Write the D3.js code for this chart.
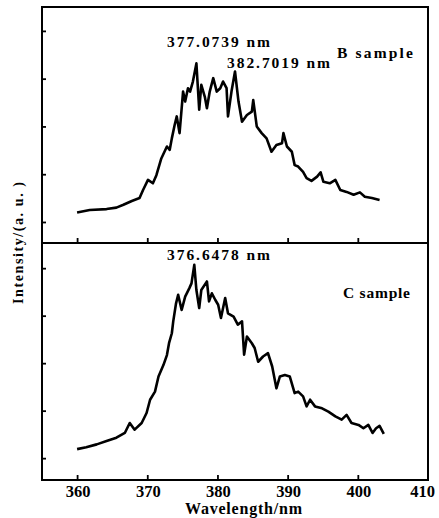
<!DOCTYPE html>
<html><head><meta charset="utf-8">
<script src="https://cdn.jsdelivr.net/npm/d3@7"></script>
<style>body{margin:0;background:#fff}svg{display:block}</style>
</head><body>
<script>
// ---- data ----
const xTicks = [360, 370, 380, 390, 400, 410];
const yTicks = [1, 2, 3, 4, 5];
const bWave = [360.0,361.8,364.2,365.6,366.6,367.8,368.9,369.4,370.1,370.8,371.3,372.0,372.8,373.2,373.5,373.9,374.2,374.6,374.9,375.1,375.4,375.8,376.1,376.5,377.0,377.4,377.7,378.2,378.5,378.9,379.4,379.9,380.4,380.8,381.3,381.5,382.0,382.5,383.0,383.5,384.2,384.9,385.1,385.6,386.3,387.0,387.7,388.4,389.2,389.4,389.9,390.6,391.0,391.5,392.2,392.7,393.4,394.2,394.7,395.1,396.0,396.8,397.5,398.4,399.4,400.3,401.0,402.0,403.1];
const bInt = [1.20,1.25,1.27,1.30,1.36,1.44,1.50,1.67,1.88,1.81,1.98,2.33,2.58,2.51,2.75,3.03,3.21,2.86,3.38,3.73,3.52,3.80,3.73,3.94,4.32,3.35,3.87,3.62,3.38,3.73,4.01,3.73,3.80,3.94,3.80,3.21,3.73,4.15,3.52,3.10,3.24,3.31,3.55,3.00,2.86,2.75,2.47,2.61,2.65,2.86,2.58,2.47,2.19,2.16,2.05,1.92,1.86,1.95,2.04,1.84,1.81,1.88,1.67,1.63,1.57,1.62,1.53,1.50,1.46];
const cWave = [360.0,361.3,362.8,364.2,365.6,366.8,367.5,368.2,369.2,369.9,370.4,371.1,371.6,372.3,372.8,373.1,373.5,373.7,374.1,374.4,374.9,375.4,376.0,376.3,376.7,377.0,377.4,377.7,378.5,378.8,379.2,379.7,380.1,380.5,381.1,381.5,382.3,382.9,383.5,383.8,384.2,384.9,385.3,385.8,386.5,387.2,387.8,388.4,388.9,389.6,390.3,391.0,391.5,392.2,392.7,393.2,393.9,394.9,395.8,396.8,397.7,398.4,399.1,400.1,400.8,401.5,402.1,402.6,403.1,403.7];
const cInt = [1.19,1.23,1.29,1.36,1.43,1.53,1.74,1.60,1.74,1.95,2.23,2.40,2.72,2.96,3.17,3.42,3.63,3.88,4.26,4.44,4.12,4.40,4.58,4.68,5.07,4.54,4.16,4.54,4.72,4.30,4.47,4.33,4.23,3.95,4.37,4.05,3.98,3.81,3.88,3.18,3.56,3.42,3.32,3.03,3.14,3.21,2.93,2.47,2.72,2.75,2.72,2.37,2.40,2.30,2.09,2.23,2.09,2.05,1.98,1.88,1.81,1.91,1.74,1.70,1.63,1.70,1.53,1.63,1.68,1.51];
const peakLabels = ["377.0739 nm", "382.7019 nm", "376.6478 nm"];
const sampleLabels = ["B sample", "C sample"];

// ---- layout ----
const W = 439, H = 518;
const L = 42, R = 428, T = 7, M = 243, B = 480;
const svg = d3.select("body").append("svg").attr("width", W).attr("height", H);
const serif = "'Liberation Serif','Times New Roman',serif";

const x = d3.scaleLinear().domain([355, 410]).range([L, R]);
const yTop = d3.scaleLinear().domain([0.56, 5.5]).range([M, T]);
const yBot = d3.scaleLinear().domain([0.54, 5.53]).range([B, M]);

// curves
const line = (ys) => d3.line().x(d => x(d[0])).y(d => ys(d[1]));
[[bWave, bInt, yTop], [cWave, cInt, yBot]].forEach(([w, v, ys]) => {
  svg.append("path").datum(d3.zip(w, v))
    .attr("d", line(ys)).attr("fill", "none").attr("stroke", "#000")
    .attr("stroke-width", 2.6).attr("stroke-linejoin", "round");
});

// ticks
function yAxis(ys) {
  const g = svg.append("g").attr("transform", `translate(${L},0)`)
    .call(d3.axisRight(ys).tickValues(yTicks).tickSize(4).tickFormat(""));
  g.select(".domain").remove();
  g.selectAll("line").attr("stroke-width", 1.8);
}
yAxis(yTop); yAxis(yBot);
function xAxis(yPos) {
  const g = svg.append("g").attr("transform", `translate(0,${yPos})`)
    .call(d3.axisTop(x).tickValues(xTicks.slice(0, 5)).tickSize(5).tickFormat(""));
  g.select(".domain").remove();
  g.selectAll("line").attr("stroke-width", 1.8);
}
xAxis(M); xAxis(B);

// tick labels
svg.append("g").selectAll("text").data(xTicks).join("text")
  .attr("x", (d, i) => i === xTicks.length - 1 ? x(d) + 7 : x(d) + 1)
  .attr("y", 497)
  .attr("text-anchor", (d, i) => i === xTicks.length - 1 ? "end" : "middle")
  .attr("font-family", serif).attr("font-weight", "bold").attr("font-size", 16.5)
  .attr("fill", "#000").text(d => d);

// frame
svg.append("rect").attr("x", L).attr("y", T).attr("width", R - L).attr("height", B - T)
  .attr("fill", "none").attr("stroke", "#000").attr("stroke-width", 2);
svg.append("line").attr("x1", L).attr("x2", R).attr("y1", M).attr("y2", M)
  .attr("stroke", "#000").attr("stroke-width", 2);

// annotations
const txt = (s, xx, yy, size, len) => {
  const t = svg.append("text").attr("x", xx).attr("y", yy).text(s)
    .attr("font-family", serif).attr("font-weight", "bold").attr("font-size", size)
    .attr("fill", "#000");
  if (len) t.attr("textLength", len).attr("lengthAdjust", "spacing");
  return t;
};
txt(peakLabels[0], 167, 47, 15.5, 103);
txt(peakLabels[1], 227, 68, 15.5, 103);
txt(peakLabels[2], 167, 260, 15.5, 103);
txt(sampleLabels[0], 337, 58, 15.5, 76);
txt(sampleLabels[1], 343, 298, 15.5, 67);

txt("Wavelength/nm", 185, 514, 16, 117);
svg.append("text").attr("transform", "translate(23,243) rotate(-90)")
  .attr("text-anchor", "middle").text("Intensity/(a. u. )")
  .attr("font-family", serif).attr("font-weight", "bold").attr("font-size", 14)
  .attr("textLength", 122).attr("lengthAdjust", "spacing").attr("fill", "#000");
</script>
</body></html>
